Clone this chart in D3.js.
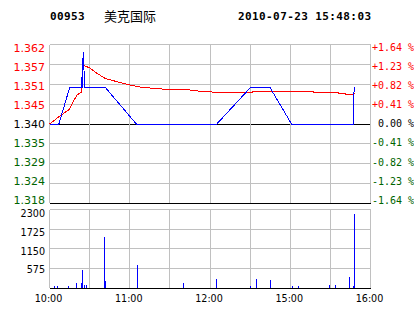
<!DOCTYPE html>
<html>
<head>
<meta charset="utf-8">
<script src="https://cdn.jsdelivr.net/npm/d3@7"></script>
<style>
  html, body { margin: 0; padding: 0; background: #fff; }
  svg { display: block; }
  .lbl { font-family: "DejaVu Sans", sans-serif; }
  .mono { font-family: "DejaVu Sans Mono", monospace; }
</style>
</head>
<body>
<svg id="chart" width="414" height="314"></svg>
<script>
// Intraday chart for 00953 (HK), one session of 240 trading minutes.
var stockCode = "00953";
var stockName = "美克国际";
var stamp = "2010-07-23 15:48:03";
var prevClose = 1.340;
var pctRange = 1.64;

var priceLabels = ["1.362", "1.357", "1.351", "1.345", "1.340", "1.335", "1.329", "1.324", "1.318"];
var pctLabels = ["+1.64 %", "+1.23 %", "+0.82 %", "+0.41 %", " 0.00 %", "-0.41 %", "-0.82 %", "-1.23 %", "-1.64 %"];
var volLabels = [2300, 1725, 1150, 575];
var timeTicks = [0, 60, 120, 180, 240];
var timeLabels = ["10:00", "11:00", "12:00", "15:00", "16:00"];

// last price (minutes from open, price)
var priceTimes  = [0, 7, 15, 24, 24, 24.5, 25, 25, 25.6, 26, 42, 65, 125, 150, 165, 181, 227, 227, 228];
var priceValues = [1.340, 1.340, 1.350, 1.350, 1.353, 1.350, 1.350, 1.358, 1.360, 1.350, 1.350, 1.340,
                   1.340, 1.350, 1.350, 1.340, 1.340, 1.3455, 1.3503];

// running average price
var avgTimes  = [0, 8, 15, 18, 20.5, 22.5, 24, 24.3, 25.3, 30.6, 35.6, 41.7, 50.5, 59, 68, 83, 103, 112,
                 121, 121.5, 152, 152, 197.5, 197.5, 216, 216, 221, 221, 227, 228];
var avgValues = [1.3400, 1.3423, 1.3441, 1.3464, 1.3480, 1.3485, 1.3488, 1.3530, 1.3563, 1.3554, 1.3540,
                 1.3526, 1.3517, 1.3509, 1.3502, 1.3497, 1.3495, 1.3491, 1.3490, 1.3488, 1.3488, 1.3490,
                 1.3490, 1.3488, 1.3488, 1.3485, 1.3485, 1.3483, 1.3483, 1.3485];

// traded volume per minute
var volTimes  = [4, 6, 14, 20, 24, 25, 26, 28, 41, 42, 66, 100, 125, 150, 155, 165, 182, 186, 209, 214, 224, 227, 228];
var volValues = [60, 60, 65, 160, 160, 530, 100, 100, 1490, 220, 670, 145, 262, 58, 262, 233, 58, 58, 87, 87, 320, 58, 2160];

var RED = "#ff0000", GREEN = "#006400", BLUE = "#0000ff", GRID = "#c0c0c0";

var svg = d3.select("#chart");
var left = 49.5, right = 370.5;
var pTop = 44.5, pBot = 203.7, vTop = 209.3, vBot = 288.3;

var x = d3.scaleLinear().domain([0, 240]).range([left, right]);
var lo = prevClose * (1 - pctRange / 100), hi = prevClose * (1 + pctRange / 100);
var y = d3.scaleLinear().domain([lo, hi]).range([pBot, pTop]);
var yv = d3.scaleLinear().domain([0, 2300]).range([vBot, vTop]);
function px(v) { return Math.round(v - 0.5) + 0.5; }

// header
svg.append("text").attr("class", "mono").attr("x", 50).attr("y", 20)
  .attr("font-size", 11).attr("font-weight", "bold").attr("letter-spacing", 0.4).text(stockCode);
svg.append("text").attr("x", 104).attr("y", 20.5)
  .attr("font-family", "'Noto Sans CJK SC', sans-serif").attr("font-size", 13).text(stockName);
svg.append("text").attr("class", "mono").attr("x", 238).attr("y", 20)
  .attr("font-size", 11).attr("font-weight", "bold").attr("letter-spacing", 0.4).text(stamp);

var vgrid = d3.range(9).map(function (i) { return i * 30; });
var hgrid = d3.range(9).map(function (i) { return lo + i * (hi - lo) / 8; });
var vhgrid = d3.range(5).map(function (i) { return i * 575; });

var g = svg.append("g").attr("shape-rendering", "crispEdges");

// price panel grid
g.selectAll("line.ph").data(hgrid).join("line").attr("class", "ph")
  .attr("x1", left).attr("x2", right)
  .attr("y1", function (d) { return px(y(d)); }).attr("y2", function (d) { return px(y(d)); })
  .attr("stroke", function (d, i) { return i === 0 || i === 4 ? "#000" : GRID; });
g.selectAll("line.pv").data(vgrid).join("line").attr("class", "pv")
  .attr("x1", function (d) { return px(x(d)); }).attr("x2", function (d) { return px(x(d)); })
  .attr("y1", px(pTop)).attr("y2", px(pBot) - 1).attr("stroke", GRID);

// volume panel grid
g.selectAll("line.vh").data(vhgrid).join("line").attr("class", "vh")
  .attr("x1", left).attr("x2", right)
  .attr("y1", function (d) { return px(yv(d)); }).attr("y2", function (d) { return px(yv(d)); })
  .attr("stroke", function (d, i) { return i === 0 ? "#000" : GRID; });
g.selectAll("line.vv").data(vgrid).join("line").attr("class", "vv")
  .attr("x1", function (d) { return px(x(d)); }).attr("x2", function (d) { return px(x(d)); })
  .attr("y1", px(vTop)).attr("y2", px(vBot) - 1).attr("stroke", GRID);

// lines
function series(ts, vs) { return ts.map(function (t, i) { return [t, vs[i]]; }); }
var line = d3.line().x(function (d) { return x(d[0]); }).y(function (d) { return y(d[1]); });
g.append("path").datum(series(avgTimes, avgValues)).attr("d", line)
  .attr("fill", "none").attr("stroke", RED).attr("stroke-width", 1);
g.append("path").datum(series(priceTimes, priceValues)).attr("d", line)
  .attr("fill", "none").attr("stroke", BLUE).attr("stroke-width", 1);

// volume bars
g.selectAll("line.bar").data(series(volTimes, volValues)).join("line").attr("class", "bar")
  .attr("x1", function (d) { return px(x(d[0])); }).attr("x2", function (d) { return px(x(d[0])); })
  .attr("y1", px(vBot) - 0.5).attr("y2", function (d) { return yv(d[1]); })
  .attr("stroke", BLUE);

// left price labels
var ly = d3.scalePoint().domain(priceLabels).range([47.7, 200]);
svg.selectAll("text.pl").data(priceLabels).join("text").attr("class", "pl lbl")
  .attr("x", 45).attr("y", function (d) { return ly(d); }).attr("dy", "0.36em")
  .attr("text-anchor", "end").attr("font-size", 11)
  .attr("fill", function (d, i) { return i < 4 ? RED : (i === 4 ? "#000" : GREEN); })
  .text(function (d) { return d; });

// right percent labels
var ry = d3.scalePoint().domain(pctLabels).range([47.7, 200]);
svg.selectAll("text.pr").data(pctLabels).join("text").attr("class", "pr mono")
  .attr("x", 372).attr("y", function (d) { return ry(d); }).attr("dy", "0.36em")
  .attr("font-size", 10).attr("xml:space", "preserve").style("white-space", "pre")
  .attr("fill", function (d, i) { return i < 4 ? RED : (i === 4 ? "#000" : GREEN); })
  .text(function (d) { return d; });

// volume labels
var vy = d3.scalePoint().domain(volLabels).range([213.3, 270]);
svg.selectAll("text.vl").data(volLabels).join("text").attr("class", "vl lbl")
  .attr("x", 45).attr("y", function (d) { return vy(d); }).attr("dy", "0.36em")
  .attr("text-anchor", "end").attr("font-size", 9.6).attr("fill", "#000")
  .text(function (d) { return d; });

// time axis
var xAxis = d3.axisBottom(x).tickValues(timeTicks)
  .tickFormat(function (d, i) { return timeLabels[i]; }).tickSize(0).tickPadding(0);
var ax = svg.append("g").attr("transform", "translate(-1.5," + 295 + ")").call(xAxis);
ax.select(".domain").remove();
ax.selectAll("text").attr("class", "lbl").attr("font-family", "'DejaVu Sans', sans-serif")
  .attr("font-size", 9.6).attr("fill", "#000");
</script>
</body>
</html>
